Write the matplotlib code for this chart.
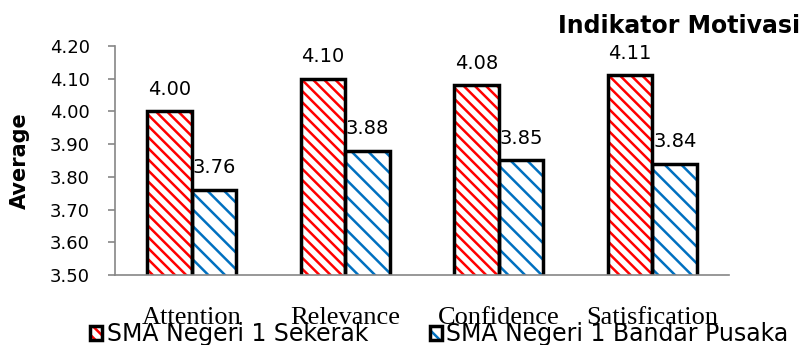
import matplotlib.pyplot as plt
import numpy as np
from matplotlib.patches import Patch

categories = ['Attention', 'Relevance', 'Confidence', 'Satisfication']
sekerak = [4.00, 4.10, 4.08, 4.11]
bandar = [3.76, 3.88, 3.85, 3.84]
series_names = ['SMA Negeri 1 Sekerak', 'SMA Negeri 1 Bandar Pusaka']
yticks = [3.50, 3.60, 3.70, 3.80, 3.90, 4.00, 4.10, 4.20]

red = '#FF0000'
blue = '#0070C0'
gray = '#868686'

fig = plt.figure(figsize=(8.04, 3.45), dpi=100)
ax = fig.add_axes([0.143, 0.203, 0.764, 0.664])

x = np.arange(len(categories))
w = 0.29

plt.rcParams['hatch.linewidth'] = 1.8
# hatch layer (colored) then black outline on top
ax.bar(x - w / 2, sekerak, w, bottom=0, facecolor='white', edgecolor=red,
       hatch='\\\\\\', linewidth=0)
ax.bar(x + w / 2, bandar, w, bottom=0, facecolor='white', edgecolor=blue,
       hatch='\\\\', linewidth=0)
ax.bar(x - w / 2, sekerak, w, fill=False, edgecolor='black', linewidth=2.5)
ax.bar(x + w / 2, bandar, w, fill=False, edgecolor='black', linewidth=2.5)

for i in range(len(categories)):
    ax.annotate('%.2f' % sekerak[i], (x[i] - w / 2, sekerak[i]), xytext=(0, 9),
                textcoords='offset points', ha='center', va='bottom', fontsize=14)
    ax.annotate('%.2f' % bandar[i], (x[i] + w / 2, bandar[i]), xytext=(0, 9),
                textcoords='offset points', ha='center', va='bottom', fontsize=14)

ax.set_ylim(3.5, 4.2)
ax.set_xlim(-0.5, len(categories) - 0.5)
ax.set_yticks(yticks)
ax.set_yticklabels(['%.2f' % t for t in yticks], fontsize=13)
ax.set_xticks(x)
ax.set_xticklabels(categories, fontsize=19, family='Liberation Serif')
ax.tick_params(axis='x', length=0, pad=23)
ax.tick_params(axis='y', length=5, color=gray, width=1.2, pad=13)

for s in ['top', 'right']:
    ax.spines[s].set_visible(False)
for s in ['left', 'bottom']:
    ax.spines[s].set_color(gray)
    ax.spines[s].set_linewidth(1.2)

fig.text(0.995, 0.925, 'Indikator Motivasi', ha='right', va='center',
         fontsize=17, fontweight='bold')
fig.text(0.025, 1 - 161 / 345, 'Average', rotation=90, ha='center', va='center',
         fontsize=15, fontweight='bold')

edge = Patch(fill=False, edgecolor='black', linewidth=2.5)
h1 = (Patch(facecolor='white', edgecolor=red, hatch='\\\\\\', linewidth=0), edge)
h2 = (Patch(facecolor='white', edgecolor=blue, hatch='\\\\', linewidth=0), edge)
fig.legend([h1, h2], series_names, loc='lower left', bbox_to_anchor=(0.092, -0.052),
           ncol=2, frameon=False, fontsize=17, handlelength=0.5, handleheight=0.5,
           handletextpad=0.2, columnspacing=2.6, borderpad=0.2)

fig.savefig('out.png', dpi=100)
